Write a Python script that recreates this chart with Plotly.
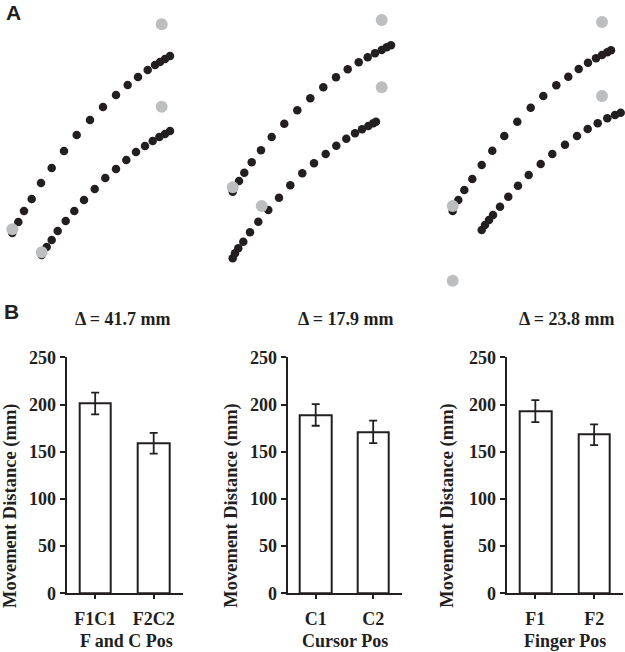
import plotly.graph_objects as go

W, H = 625, 652

# ---------------- Panel A: trajectories (local units, y upward) ----------------
p1_up_x = [12.3, 18.3, 24, 31.7, 41, 51.7, 64, 76.7, 90, 103, 116, 127.7, 138, 147.7, 155, 160, 165, 170]
p1_up_y = [67, 78, 89, 101, 117, 132, 149, 165, 180, 193, 205, 215, 223, 230, 235, 238, 241, 244]
p1_lo_x = [41.7, 46.7, 51.7, 57.7, 65.7, 74.3, 84, 94.7, 105.3, 116, 126.3, 136, 145, 152.7, 159.3, 165, 170]
p1_lo_y = [45, 53, 60, 69, 79, 89, 100, 111, 122, 131, 140, 148, 154, 159, 163, 166, 169]
p1_gray_x = [161.7, 12.3, 161.7, 41.7]
p1_gray_y = [275.7, 70.7, 193.3, 47.7]

p2_up_x = [22.7, 29, 34.3, 41.7, 51, 61.7, 74.3, 87.3, 100.3, 113.3, 126, 137.7, 148.7, 157.7, 165, 171.7, 176.7, 181]
p2_up_y = [108.3, 119, 127.3, 137.7, 149.7, 163, 176.3, 189.7, 201.7, 212.7, 222.7, 230.7, 237.7, 242.7, 246.7, 250, 252.7, 254.7]
p2_lo_x = [22.7, 25, 28.3, 33.3, 40, 48.3, 58.3, 69, 80.3, 92.3, 104, 115.7, 126.3, 136.3, 145, 152, 158.3, 163.3, 166]
p2_lo_y = [41.7, 46.7, 51.7, 58.3, 67.7, 78.3, 90, 102.3, 114.7, 126.7, 136.7, 146, 154.3, 161.3, 166.7, 170.7, 174, 176.7, 178.3]
p2_gray_x = [171.7, 22.7, 171.7, 51.7]
p2_gray_y = [280, 112.7, 212.7, 94]

p3_up_x = [37.7, 43.3, 49.3, 57.3, 66.7, 77.3, 89.3, 102.3, 115.7, 128.3, 141.3, 153.3, 163.7, 173, 181, 187, 192.3, 196]
p3_up_y = [89, 100, 110, 121, 135, 149.3, 164, 178.3, 192.3, 204, 214.7, 223.3, 231, 237.3, 241.7, 245, 247.7, 249.7]
p3_lo_x = [66.7, 70, 74, 78, 85, 93.3, 103, 113.7, 125.7, 137.3, 150, 162, 172.7, 182.7, 192.3, 200, 205.7]
p3_lo_y = [70, 75, 80, 85, 93.3, 103.3, 114.3, 125, 136, 146, 155.3, 164, 171, 176.7, 181.7, 185, 187.3]
p3_gray_x = [187, 37.7, 187, 37.7]
p3_gray_y = [278, 94, 204, 19.3]

# ---------------- Panel B: bar data ----------------
b_titles = ["\u0394 = 41.7 mm", "\u0394 = 17.9 mm", "\u0394 = 23.8 mm"]
b_cats = [["F1C1", "F2C2"], ["C1", "C2"], ["F1", "F2"]]
b_vals = [[201, 159], [189, 171], [193, 168]]
b_errs = [[11.5, 11], [11.5, 12], [11.7, 11]]
b_xtitles = ["F and C Pos", "Cursor Pos", "Finger Pos"]
y_ticks = [0, 50, 100, 150, 200, 250]
y_title = "Movement Distance (mm)"

DARK = "#231f20"
GRAY = "#bcbec0"
SERIF = "Liberation Serif, Times New Roman, serif"
SANS = "Liberation Sans, Arial, sans-serif"

fig = go.Figure()

def xd(a, b):
    return [a / W, b / W]

def yd(top, bottom):
    return [1 - bottom / H, 1 - top / H]

top_panels = [
    (p1_up_x, p1_up_y, p1_lo_x, p1_lo_y, p1_gray_x, p1_gray_y, 0, 210),
    (p2_up_x, p2_up_y, p2_lo_x, p2_lo_y, p2_gray_x, p2_gray_y, 210, 415),
    (p3_up_x, p3_up_y, p3_lo_x, p3_lo_y, p3_gray_x, p3_gray_y, 415, 625),
]

layout = {}
ai = 1
for (ux, uy, lx, ly, gx, gy, x0, x1) in top_panels:
    xa = "x" if ai == 1 else f"x{ai}"
    ya = "y" if ai == 1 else f"y{ai}"
    for xs, ys in ((ux, uy), (lx, ly)):
        fig.add_trace(go.Scatter(x=xs, y=ys, mode="markers", xaxis=xa, yaxis=ya,
                                 marker=dict(size=8.5, color=DARK), cliponaxis=False,
                                 showlegend=False, hoverinfo="skip"))
    fig.add_trace(go.Scatter(x=gx, y=gy, mode="markers", xaxis=xa, yaxis=ya,
                             marker=dict(size=12, color=GRAY), cliponaxis=False,
                             showlegend=False, hoverinfo="skip"))
    sfx = "" if ai == 1 else str(ai)
    layout[f"xaxis{sfx}"] = dict(domain=xd(x0, x1), range=[0, x1 - x0], visible=False,
                                 anchor=ya, automargin=False)
    layout[f"yaxis{sfx}"] = dict(domain=yd(0, 300), range=[0, 300], visible=False,
                                 anchor=xa, automargin=False)
    ai += 1

bar_x_px = [(66.7, 182.7), (287.7, 401.7), (506.7, 623.3)]
BT, BB = 357.3, 593.3
annotations = []
for k in range(3):
    xa = f"x{ai}"
    ya = f"y{ai}"
    fig.add_trace(go.Bar(x=[0, 1], y=b_vals[k], xaxis=xa, yaxis=ya, width=0.54,
                         marker=dict(color="white", line=dict(color=DARK, width=2)),
                         error_y=dict(type="data", array=b_errs[k], visible=True,
                                      color=DARK, thickness=1.8, width=4),
                         showlegend=False, hoverinfo="skip"))
    a, b = bar_x_px[k]
    layout[f"xaxis{ai}"] = dict(domain=xd(a, b), range=[-0.487, 1.496], anchor=ya,
                                tickvals=[0, 1], ticktext=b_cats[k], ticks="outside",
                                ticklen=4, tickwidth=2, tickcolor=DARK, ticklabelstandoff=4,
                                showline=True, linewidth=2, linecolor=DARK, automargin=False,
                                showgrid=False, zeroline=False, fixedrange=True,
                                tickfont=dict(family=SERIF, size=18, color=DARK, weight="bold"))
    layout[f"yaxis{ai}"] = dict(domain=yd(BT, BB), range=[0, 250], anchor=xa,
                                tickvals=y_ticks, ticks="outside", ticklen=5, tickwidth=2,
                                tickcolor=DARK, showline=True, linewidth=2, linecolor=DARK,
                                showgrid=False, zeroline=False, fixedrange=True, automargin=False,
                                tickfont=dict(family=SERIF, size=18, color=DARK, weight="bold"))
    centers = [123, 345.5, 566.7]
    annotations.append(dict(text=b_titles[k], x=centers[k] / W, y=1 - 318.5 / H,
                            xref="paper", yref="paper", showarrow=False,
                            xanchor="center", yanchor="middle",
                            font=dict(family=SERIF, size=18, color=DARK, weight="bold")))
    ytx = [10, 230.7, 446.7]
    annotations.append(dict(text=y_title, x=ytx[k] / W, y=1 - 506 / H, textangle=-90,
                            xref="paper", yref="paper", showarrow=False,
                            xanchor="center", yanchor="middle",
                            font=dict(family=SERIF, size=18.5, color=DARK, weight="bold")))
    annotations.append(dict(text=b_xtitles[k], x=(a + b) / 2 / W + (2 / W if k == 0 else 0),
                            y=1 - 641 / H,
                            xref="paper", yref="paper", showarrow=False,
                            xanchor="center", yanchor="middle",
                            font=dict(family=SERIF, size=18, color=DARK, weight="bold")))
    ai += 1

annotations.append(dict(text="A", x=13.8 / W, y=1 - 12.5 / H, xref="paper", yref="paper",
                        showarrow=False, xanchor="center", yanchor="middle",
                        font=dict(family=SANS, size=21, color=DARK, weight="bold")))
annotations.append(dict(text="B", x=11 / W, y=1 - 311 / H, xref="paper", yref="paper",
                        showarrow=False, xanchor="center", yanchor="middle",
                        font=dict(family=SANS, size=21, color=DARK, weight="bold")))

fig.update_layout(**layout)
fig.update_layout(width=W, height=H, margin=dict(l=0, r=0, t=0, b=0, pad=0, autoexpand=False),
                  paper_bgcolor="white", plot_bgcolor="white",
                  annotations=annotations, bargap=0)
fig.write_html("out.html", config={"displayModeBar": False},
               post_script="document.body.style.margin='0';document.body.style.padding='0';"
                           "document.body.style.overflow='hidden';")
